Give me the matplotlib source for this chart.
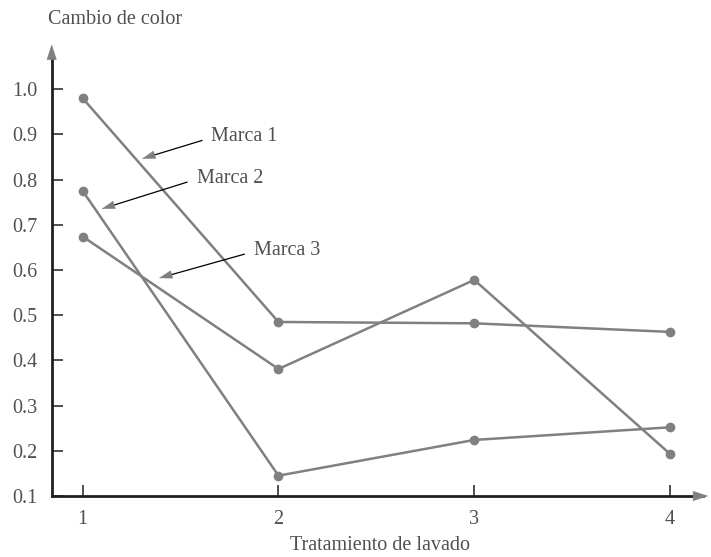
import matplotlib.pyplot as plt

# data
tratamientos = [1, 2, 3, 4]
marca1 = [0.98, 0.485, 0.482, 0.463]
marca2 = [0.775, 0.145, 0.224, 0.252]
marca3 = [0.674, 0.381, 0.578, 0.193]

y_ticks = [0.1, 0.2, 0.3, 0.4, 0.5, 0.6, 0.7, 0.8, 0.9, 1.0]
y_labels = ['0.1', '0.2', '0.3', '0.4', '0.5', '0.6', '0.7', '0.8', '0.9', '1.0']

plt.rcParams['font.family'] = ['Liberation Serif', 'DejaVu Serif']

line_col = '#808080'
text_col = '#505050'
axis_col = '#231f20'

fig = plt.figure(figsize=(7.11, 5.57), dpi=100)
ax = fig.add_axes([51.7 / 711, 61 / 557, 1 - 51.7 / 711, (496 - 41.7) / 557])

for serie in (marca1, marca2, marca3):
    ax.plot(tratamientos, serie, color=line_col, lw=1.8, marker='o', ms=6,
            solid_capstyle='round')

ax.set_xlim(0.842, 4.209)
ax.set_ylim(0.1, 1.105)

ax.set_xticks(tratamientos)
ax.set_xticklabels([str(t) for t in tratamientos])
ax.set_yticks(y_ticks)
ax.set_yticklabels(y_labels)
ax.tick_params(direction='in', length=8, width=1.1, color=axis_col,
               labelcolor=text_col, labelsize=14.5, pad=10)

# axes lines with arrow heads
for s in ['top', 'right']:
    ax.spines[s].set_visible(False)
for s in ['left', 'bottom']:
    ax.spines[s].set_color(axis_col)
    ax.spines[s].set_linewidth(2)
ax.spines['left'].set_bounds(0.1, 1.08)
ax.spines['bottom'].set_bounds(0.842, 4.17)
head = dict(arrowstyle='-|>,head_length=1.0,head_width=0.33', color=line_col, lw=0.5)
ax.annotate('', xy=(0, 1), xytext=(0, 0.96), xycoords='axes fraction', arrowprops=head)
ax.annotate('', xy=(1, 0), xytext=(0.97, 0), xycoords='axes fraction', arrowprops=head)

# labels for the brands: black shaft, grey head
etiquetas = ['Marca 1', 'Marca 2', 'Marca 3']
puntas = [(1.303, 0.846), (1.097, 0.735), (1.390, 0.582)]
textos = [(1.658, 0.895), (1.582, 0.803), (1.875, 0.643)]
for lab, tip, txt in zip(etiquetas, puntas, textos):
    ax.annotate(lab, xy=tip, xytext=txt, color=text_col, fontsize=14.5,
                ha='left', va='center',
                arrowprops=dict(arrowstyle='-', color='black', lw=0.9,
                                shrinkA=5, shrinkB=4, relpos=(0, 0.45)))
    back = (tip[0] + 0.1 * (txt[0] - tip[0]), tip[1] + 0.1 * (txt[1] - tip[1]))
    ax.annotate('', xy=tip, xytext=back,
                arrowprops=dict(arrowstyle='-|>,head_length=0.9,head_width=0.28',
                                color=line_col, lw=0.3, shrinkA=0, shrinkB=0))

fig.text(48 / 711, 1 - 20 / 557, 'Cambio de color', color=text_col, fontsize=14.5,
         ha='left', va='center')
fig.text(380 / 711, 1 - 546 / 557, 'Tratamiento de lavado', color=text_col, fontsize=14.5,
         ha='center', va='center')

fig.savefig('out.png', dpi=100)
